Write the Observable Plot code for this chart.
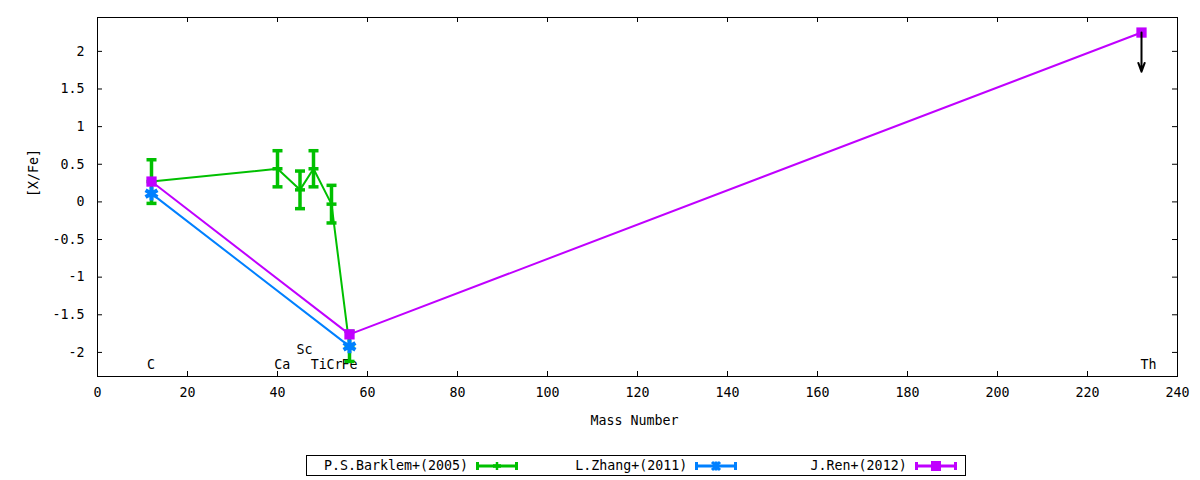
<!DOCTYPE html>
<html><head><meta charset="utf-8">
<script src="https://cdn.jsdelivr.net/npm/d3@7"></script>
<script src="https://cdn.jsdelivr.net/npm/@observablehq/plot@0.6"></script>
<style>
body{margin:0;background:#fff;font-family:"DejaVu Sans Mono",monospace;}
#chart{position:absolute;left:0;top:0;}
#legend{position:absolute;left:306px;top:455px;width:658px;height:19px;border:1px solid #000;display:flex;font-size:13.3px;color:#000;}
.item{width:220px;display:flex;align-items:center;}
.item span{width:161px;text-align:right;display:inline-block;}
.item svg{margin-left:8px;display:block;}
</style></head><body>
<div id="chart"></div>
<div id="legend"></div>
<script>
// ---- data ----
const seriesNames = ["P.S.Barklem+(2005)", "L.Zhang+(2011)", "J.Ren+(2012)"];
const seriesColors = ["#00c000", "#0080ff", "#c000ff"];

const barklemMass = [12, 40, 45, 48, 52, 56];
const barklemVal  = [0.27, 0.44, 0.16, 0.44, -0.03, -1.92];
const barklemErr  = [0.29, 0.24, 0.25, 0.24, 0.25, 0.20];

const zhangMass = [12, 56];
const zhangVal  = [0.11, -1.92];

const renMass = [12, 56, 232];
const renVal  = [0.27, -1.76, 2.25];

// upper limit arrow for Th
const limitMass = [232];
const limitFrom = [2.25];
const limitTo   = [1.73];

const elemNames = ["C", "Ca", "Sc", "Ti", "Cr", "Fe", "Th"];
const elemLabelX = [11, 39.3, 44.2, 47.4, 50.9, 54.2, 231.8];
const elemLabelY = [-2.17, -2.17, -1.97, -2.17, -2.17, -2.17, -2.17];

const xTickValues = [0, 20, 40, 60, 80, 100, 120, 140, 160, 180, 200, 220, 240];
const yTickValues = [-2, -1.5, -1, -0.5, 0, 0.5, 1, 1.5, 2];

// ---- tables ----
const barklem = barklemMass.map((x, i) => ({x, y: barklemVal[i], e: barklemErr[i]}));
const zhang = zhangMass.map((x, i) => ({x, y: zhangVal[i]}));
const ren = renMass.map((x, i) => ({x, y: renVal[i]}));
const limits = limitMass.map((x, i) => ({x, y1: limitFrom[i], y2: limitTo[i]}));
const caps = barklem.flatMap(d => [{x: d.x, y: d.y - d.e}, {x: d.x, y: d.y + d.e}]);
const labels = elemNames.map((t, i) => ({t, x: elemLabelX[i], y: elemLabelY[i]}));

const W = 1200, H = 440, mL = 97, mR = 23, mT = 17, mB = 64;
const innerW = W - mL - mR, innerH = H - mT - mB;

const hbar = {draw(ctx, size) { const r = Math.sqrt(size / Math.PI); ctx.moveTo(-r, 0); ctx.lineTo(r, 0); }};

const [cG, cB, cP] = seriesColors;

const chart = Plot.plot({
  width: W, height: H,
  marginLeft: mL, marginRight: mR, marginTop: mT, marginBottom: mB,
  style: {fontFamily: "DejaVu Sans Mono", fontSize: "13.3px", color: "#000", background: "#fff"},
  x: {domain: [0, 240], ticks: xTickValues, tickSize: 0, tickPadding: 11, label: null, tickFormat: d => String(d)},
  y: {domain: [-2.32, 2.45], ticks: yTickValues, tickSize: 0, tickPadding: 13, label: null, tickFormat: d => String(d)},
  marks: [
    Plot.frame({stroke: "#000", strokeWidth: 1}),
    Plot.tickX(xTickValues, {x: d => d, insetTop: innerH - 5, stroke: "#000"}),
    Plot.tickX(xTickValues, {x: d => d, insetBottom: innerH - 5, stroke: "#000"}),
    Plot.tickY(yTickValues, {y: d => d, insetRight: innerW - 5, stroke: "#000"}),
    Plot.tickY(yTickValues, {y: d => d, insetLeft: innerW - 5, stroke: "#000"}),
    Plot.text(labels, {x: "x", y: "y", text: "t", textAnchor: "start", fill: "#000"}),
    Plot.text(["Mass Number"], {frameAnchor: "bottom", dy: 48, dx: -3, text: d => d, fill: "#000"}),
    Plot.text(["[X/Fe]"], {frameAnchor: "left", dx: -64, rotate: -90, text: d => d, fill: "#000"}),
    // Barklem
    Plot.line(barklem, {x: "x", y: "y", stroke: cG, strokeWidth: 2}),
    Plot.ruleX(barklem, {x: "x", y1: d => d.y - d.e, y2: d => d.y + d.e, stroke: cG, strokeWidth: 3.5}),
    Plot.dot(caps, {x: "x", y: "y", symbol: hbar, r: 5, stroke: cG, strokeWidth: 3.5}),
    Plot.dot(barklem, {x: "x", y: "y", symbol: hbar, r: 5, stroke: cG, strokeWidth: 3.5}),
    // Zhang
    Plot.line(zhang, {x: "x", y: "y", stroke: cB, strokeWidth: 2}),
    Plot.dot(zhang, {x: "x", y: "y", symbol: "asterisk", r: 6.5, stroke: cB, strokeWidth: 4}),
    // Ren
    Plot.line(ren, {x: "x", y: "y", stroke: cP, strokeWidth: 2}),
    Plot.dot(ren, {x: "x", y: "y", symbol: "square", r: 5.8, fill: cP}),
    Plot.arrow(limits, {x: "x", y1: "y1", y2: "y2", stroke: "#000", strokeWidth: 2, headLength: 7, headAngle: 40})
  ]
});
document.getElementById("chart").append(chart);

// ---- legend ----
const legend = document.getElementById("legend");
const markerSvg = [
  `<line x1="17" y1="6" x2="25" y2="6" stroke="${cG}" stroke-width="3.5"/><line x1="21" y1="2" x2="21" y2="10" stroke="${cG}" stroke-width="2.5"/>`,
  `<path d="M17,2L25,10M25,2L17,10M21,1.5V10.5" stroke="${cB}" stroke-width="3"/>`,
  `<rect x="16" y="1" width="10" height="10" fill="${cP}"/>`
];
seriesNames.forEach((name, i) => {
  const c = seriesColors[i];
  const item = document.createElement("div");
  item.className = "item";
  item.innerHTML = `<span>${name}</span><svg width="42" height="12" viewBox="0 0 42 12">
    <line x1="1" y1="6" x2="41" y2="6" stroke="${c}" stroke-width="3"/>
    <line x1="1.5" y1="2" x2="1.5" y2="10" stroke="${c}" stroke-width="3"/>
    <line x1="40.5" y1="2" x2="40.5" y2="10" stroke="${c}" stroke-width="3"/>
    ${markerSvg[i]}</svg>`;
  legend.append(item);
});
</script>
</body></html>
